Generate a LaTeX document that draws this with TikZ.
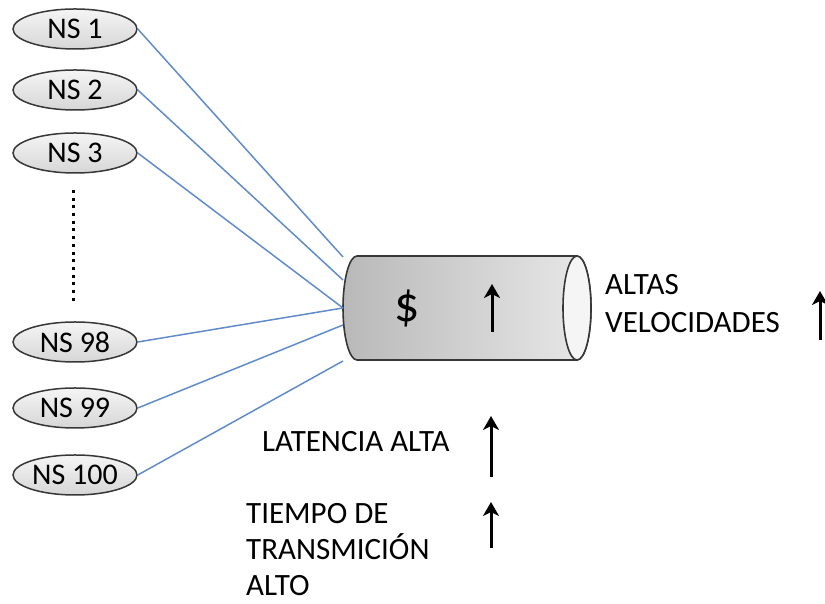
\documentclass[tikz,border=0pt]{standalone}
\usepackage{fontspec}
\setmainfont{Carlito}
\usetikzlibrary{shapes.geometric,arrows.meta}
\definecolor{linkblue}{RGB}{96,140,204}
\definecolor{rim}{RGB}{55,55,55}
\begin{document}
\begin{tikzpicture}[x=1pt,y=1pt,
  server/.style={ellipse, draw=rim, line width=1.5pt, top color=gray!8, bottom color=gray!32,
    minimum width=124pt, minimum height=40pt, inner sep=0pt,
    font=\fontsize{30}{32}\selectfont},
  link/.style={draw=linkblue, line width=1.5pt},
  label/.style={inner sep=0pt, anchor=base west, font=\fontsize{31}{37}\selectfont},
  uparrow/.style={line width=3pt, -{Stealth[length=14pt,width=16pt,inset=4pt]}}
]
\useasboundingbox (0,0) rectangle (825,604);

% name servers
\node[server] (ns1)   at (75,575) {NS 1};
\node[server] (ns2)   at (75,514) {NS 2};
\node[server] (ns3)   at (75,451) {NS 3};
\node[server] (ns98)  at (75,262) {NS 98};
\node[server] (ns99)  at (75,196) {NS 99};
\node[server] (ns100) at (75,129) {NS 100};

% ellipsis between NS 3 and NS 98
\coordinate (dtop) at (73,414);
\coordinate (dbot) at (73,299);
\draw[line width=3pt, dash pattern=on 3pt off 4.7pt] (dtop) -- (dbot);

% the link (cylinder)
\shade[left color=gray!55, right color=gray!18, draw=rim, line width=1.6pt]
  (577,348) -- (357,348) arc[start angle=90, end angle=270, x radius=14, y radius=52]
  -- (577,244) arc[start angle=-90, end angle=90, x radius=14, y radius=52] -- cycle;
\draw[fill=gray!8, draw=rim, line width=1.6pt] (577,296) ellipse[x radius=14, y radius=52];
\node[font=\fontsize{50}{52}\selectfont, inner sep=0pt] (cost) at (407,296) {\$};
\coordinate (c1) at (492,272);
\coordinate (c2) at (492,320);
\draw[uparrow] (c1) -- (c2);

% connectors to the cylinder
\coordinate (e1) at (343,347);
\coordinate (e2) at (343,324);
\coordinate (e3) at (343,296);
\coordinate (e5) at (343,279);
\coordinate (e6) at (343,243);
\draw[link] (ns1.east) -- (e1);
\draw[link] (ns2.east) -- (e2);
\draw[link] (ns3.east) -- (e3);
\draw[link] (ns98.east) -- (e3);
\draw[link] (ns99.east) -- (e5);
\draw[link] (ns100.east) -- (e6);

% labels
\node[label] (speed1) at (605,309) {ALTAS};
\node[label] (speed2) at (605,271) {VELOCIDADES};
\coordinate (s1) at (820,264);
\coordinate (s2) at (820,313);
\draw[uparrow] (s1) -- (s2);

\node[label] (lat) at (262,152) {LATENCIA ALTA};
\coordinate (l1) at (491,127);
\coordinate (l2) at (491,188);
\draw[uparrow] (l1) -- (l2);

\node[label] (tx1) at (246,80) {TIEMPO DE};
\node[label] (tx2) at (246,44) {TRANSMICIÓN};
\node[label] (tx3) at (246,8) {ALTO};
\coordinate (t1) at (491,56);
\coordinate (t2) at (491,102);
\draw[uparrow] (t1) -- (t2);
\end{tikzpicture}
\end{document}
